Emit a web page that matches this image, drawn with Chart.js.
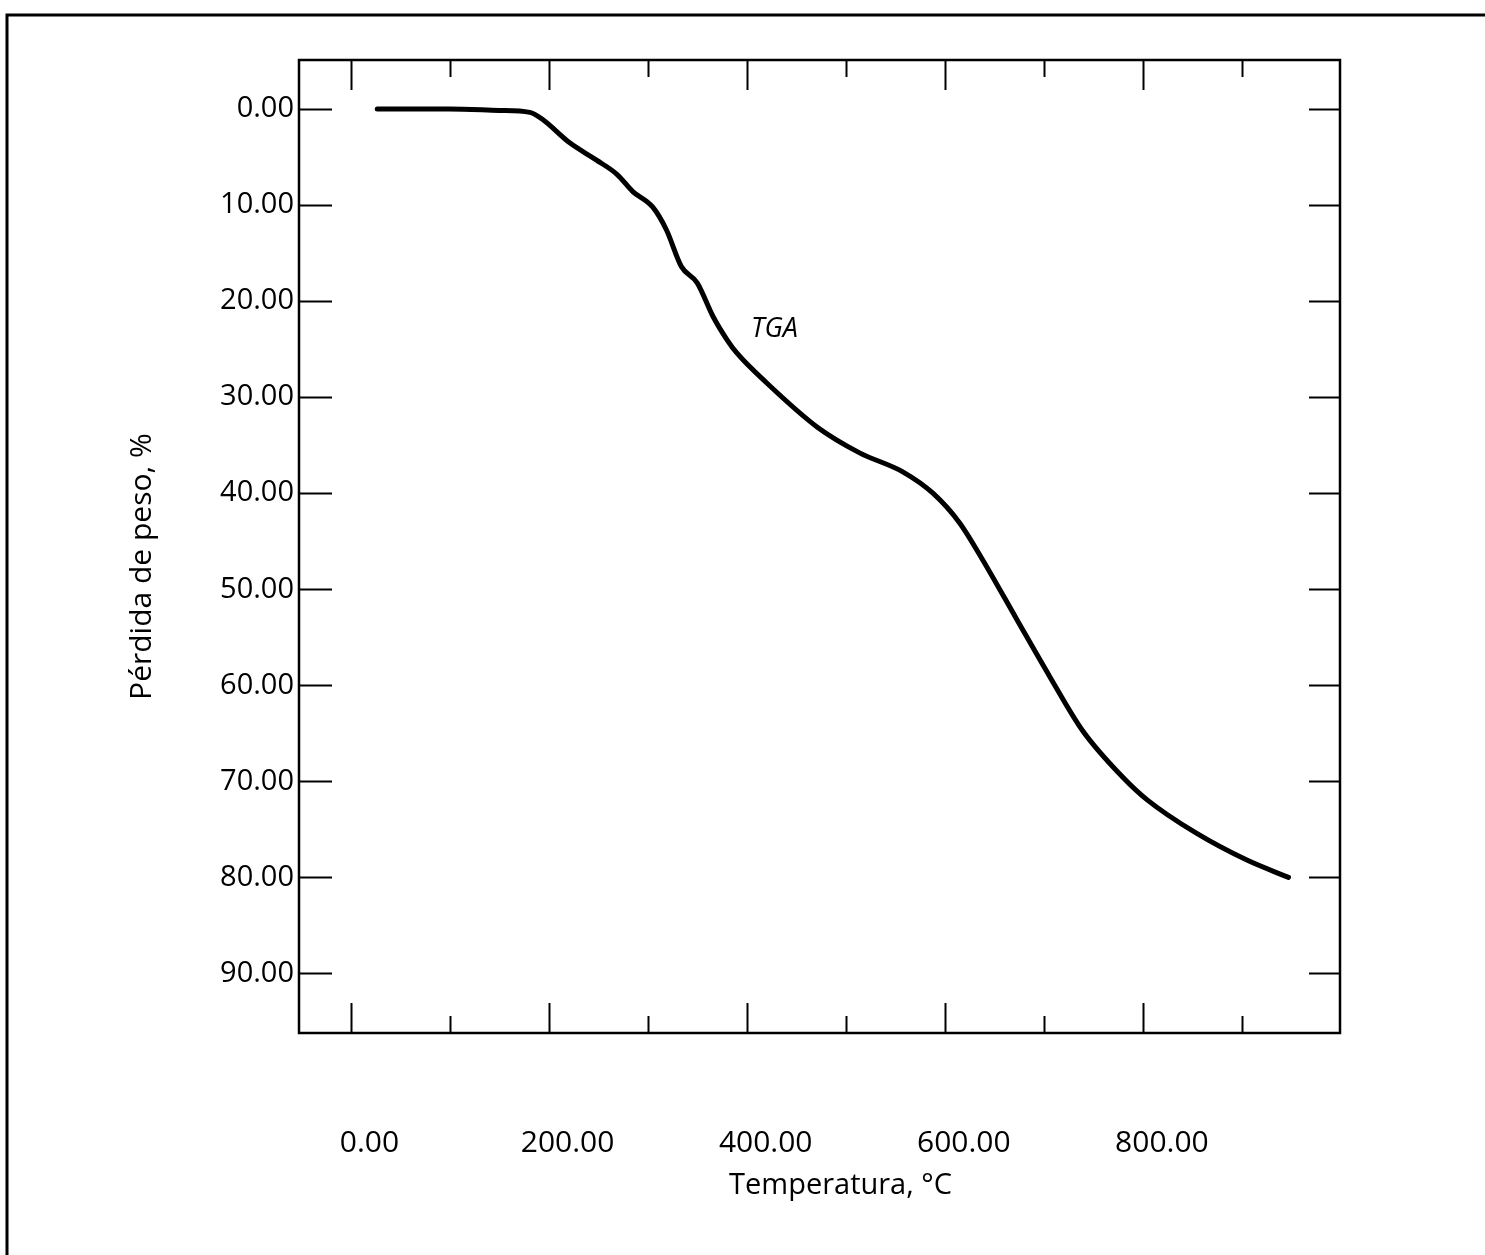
<!DOCTYPE html>
<html lang="es">
<head>
<meta charset="utf-8">
<title>TGA</title>
<script src="https://cdn.jsdelivr.net/npm/chart.js@4.4.1/dist/chart.umd.min.js"></script>
<style>
  html, body { margin: 0; padding: 0; background: #fff; }
  #chart { display: block; }
</style>
</head>
<body>
<canvas id="chart" width="1485" height="1255"></canvas>
<script>
// curva TGA
const temperatura = [27, 100, 150, 181, 194, 221, 248, 269, 285, 305, 319, 334, 350, 366, 380, 390, 420, 471, 514, 558, 588, 615, 638, 673, 706, 739, 780, 804, 854, 905, 947];
const perdida = [0, 0, 0.15, 0.35, 1.1, 3.5, 5.3, 6.8, 8.6, 10.2, 12.6, 16.4, 18.1, 21.6, 24.0, 25.4, 28.5, 33.1, 35.8, 37.8, 40.0, 43.1, 46.9, 53.2, 59.1, 64.7, 69.6, 71.9, 75.4, 78.2, 80.0];

const xTicks = [0, 100, 200, 300, 400, 500, 600, 700, 800, 900];
const yTicks = [0, 10, 20, 30, 40, 50, 60, 70, 80, 90];

const xTitle = 'Temperatura, °C';
const yTitle = 'Pérdida de peso, %';
const curveLabel = 'TGA';

const font = "'Open Sans', 'Noto Sans', sans-serif";

const frame = {
  id: 'frame',
  beforeDraw(chart) {
    const ctx = chart.ctx;
    ctx.save();
    ctx.strokeStyle = '#000';
    ctx.lineWidth = 3;
    ctx.beginPath();
    ctx.moveTo(7, 1255);
    ctx.lineTo(7, 15);
    ctx.lineTo(1485, 15);
    ctx.stroke();
    ctx.restore();
  },
  afterDraw(chart) {
    const { ctx, chartArea: a, scales: { x, y } } = chart;
    ctx.save();
    ctx.strokeStyle = '#000';
    ctx.lineWidth = 2.5;
    ctx.strokeRect(a.left, a.top, a.right - a.left, a.bottom - a.top);

    ctx.lineWidth = 2;
    ctx.beginPath();
    xTicks.forEach(v => {
      const px = Math.round(x.getPixelForValue(v)) + 0.5;
      const len = v % 200 === 0 ? 30 : 17;
      ctx.moveTo(px, a.bottom);
      ctx.lineTo(px, a.bottom - len);
      ctx.moveTo(px, a.top);
      ctx.lineTo(px, a.top + len);
    });
    yTicks.forEach(v => {
      const py = Math.round(y.getPixelForValue(v)) + 0.5;
      ctx.moveTo(a.left, py);
      ctx.lineTo(a.left + 33, py);
      ctx.moveTo(a.right, py);
      ctx.lineTo(a.right - 31, py);
    });
    ctx.stroke();

    ctx.fillStyle = '#000';
    ctx.textAlign = 'center';
    ctx.textBaseline = 'middle';
    ctx.font = `italic 27px ${font}`;
    ctx.fillText(curveLabel, x.getPixelForValue(428), y.getPixelForValue(22.9));

    ctx.font = `29px ${font}`;
    ctx.fillText(xTitle, (a.left + a.right) / 2 + 21, 1186);
    ctx.font = `30px ${font}`;
    ctx.translate(142, (a.top + a.bottom) / 2 + 20);
    ctx.rotate(-Math.PI / 2);
    ctx.fillText(yTitle, 0, 0);
    ctx.restore();
  }
};

new Chart(document.getElementById('chart'), {
  type: 'line',
  data: {
    datasets: [{
      label: curveLabel,
      data: temperatura.map((t, i) => ({ x: t, y: perdida[i] })),
      borderColor: '#000',
      borderWidth: 5,
      borderCapStyle: 'round',
      pointRadius: 0,
      fill: false,
      cubicInterpolationMode: 'monotone'
    }]
  },
  options: {
    responsive: false,
    animation: false,
    events: [],
    layout: { padding: { top: 60, right: 145, left: 0, bottom: 0 } },
    plugins: { legend: { display: false }, tooltip: { enabled: false } },
    scales: {
      x: {
        type: 'linear',
        min: -52,
        max: 999,
        afterFit: s => { s.height = 222; },
        afterBuildTicks: s => { s.ticks = xTicks.map(v => ({ value: v })); },
        grid: { display: false },
        border: { display: false },
        ticks: {
          color: '#000',
          font: { family: font, size: 30 },
          padding: 84,
          labelOffset: 19,
          maxRotation: 0,
          autoSkip: false,
          callback: v => (v % 200 === 0 ? v.toFixed(2) : '')
        }
      },
      y: {
        type: 'linear',
        reverse: true,
        min: -5.1,
        max: 96.2,
        afterFit: s => { s.width = 299; },
        afterBuildTicks: s => { s.ticks = yTicks.map(v => ({ value: v })); },
        grid: { display: false },
        border: { display: false },
        ticks: {
          color: '#000',
          font: { family: font, size: 29 },
          padding: -3,
          autoSkip: false,
          callback: v => v.toFixed(2)
        }
      }
    }
  },
  plugins: [frame]
});
</script>
</body>
</html>
